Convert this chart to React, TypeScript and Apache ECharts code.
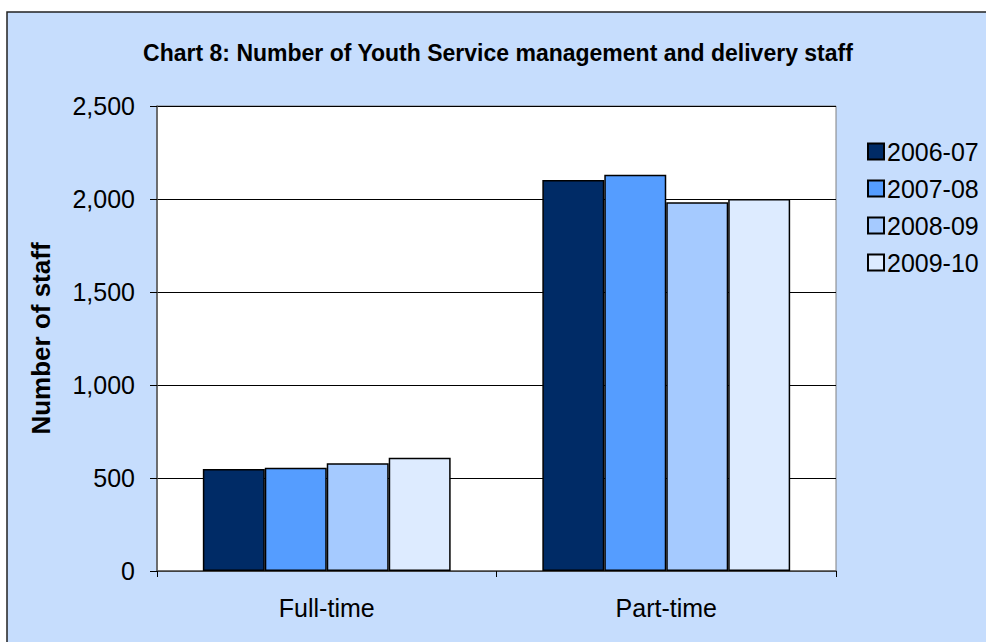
import React, { useEffect, useRef } from "react";
import * as echarts from "echarts";

const categories = ["Full-time", "Part-time"];
const seriesNames = ["2006-07", "2007-08", "2008-09", "2009-10"];
const values2006 = [548, 2102];
const values2007 = [555, 2131];
const values2008 = [579, 1982];
const values2009 = [609, 2000];
const colors = ["#002B66", "#559DFF", "#A5CAFF", "#DDEBFF"];

export default function App() {
  const ref = useRef<HTMLDivElement>(null);
  useEffect(() => {
    if (!ref.current) return;
    const chart = echarts.init(ref.current, null, { renderer: "svg" });
    const data = [values2006, values2007, values2008, values2009];
    const font = "Arial, 'Liberation Sans', sans-serif";
    chart.setOption({
      animation: false,
      backgroundColor: "#ffffff",
      textStyle: { fontFamily: font },
      graphic: [
        {
          type: "rect",
          z: -10,
          silent: true,
          shape: { x: 7, y: 12, width: 1000, height: 700 },
          style: { fill: "#C6DDFD", stroke: "#222222", lineWidth: 1.5 },
        },
      ],
      title: {
        text: "Chart 8: Number of Youth Service management and delivery staff",
        left: 493,
        textAlign: "center",
        top: 36,
        textStyle: { fontSize: 23, fontWeight: "bold", color: "#000", fontFamily: font },
      },
      legend: {
        orient: "vertical",
        left: 862,
        top: 134,
        itemWidth: 16,
        itemHeight: 16,
        itemGap: 12,
        icon: "rect",
        textStyle: { fontSize: 25, color: "#000", fontFamily: font, padding: [0, 0, 0, -2] },
        data: seriesNames,
      },
      grid: {
        left: 157,
        right: 150,
        top: 106,
        bottom: 71,
        show: true,
        backgroundColor: "#ffffff",
        borderColor: "#808080",
        borderWidth: 1,
      },
      xAxis: {
        type: "category",
        data: categories,
        axisLine: { lineStyle: { color: "#555", width: 1.5 } },
        axisTick: { show: true, inside: false, length: 6, lineStyle: { color: "#000" } },
        axisLabel: { fontSize: 25, color: "#000", margin: 24, fontFamily: font },
      },
      yAxis: {
        type: "value",
        min: 0,
        max: 2500,
        interval: 500,
        name: "Number of staff",
        nameLocation: "middle",
        nameGap: 103,
        nameTextStyle: { fontSize: 26, fontWeight: "bold", color: "#000", fontFamily: font },
        axisLine: { show: true, lineStyle: { color: "#555", width: 1.5 } },
        axisTick: { show: true, inside: false, length: 7, lineStyle: { color: "#000" } },
        axisLabel: {
          fontSize: 25,
          color: "#000",
          margin: 22,
          fontFamily: font,
          formatter: (v: number) => v.toLocaleString("en-US"),
        },
        splitLine: { show: true, lineStyle: { color: "#000", width: 1 } },
      },
      series: seriesNames.map((name, i) => ({
        name,
        type: "bar",
        data: data[i],
        barGap: "0%",
        barCategoryGap: "27%",
        itemStyle: { color: colors[i], borderColor: "#000", borderWidth: 1.5 },
      })),
    });
    return () => chart.dispose();
  }, []);
  return (
    <div
      ref={ref}
      style={{ position: "fixed", left: 0, top: 0, width: 986, height: 642 }}
    />
  );
}
